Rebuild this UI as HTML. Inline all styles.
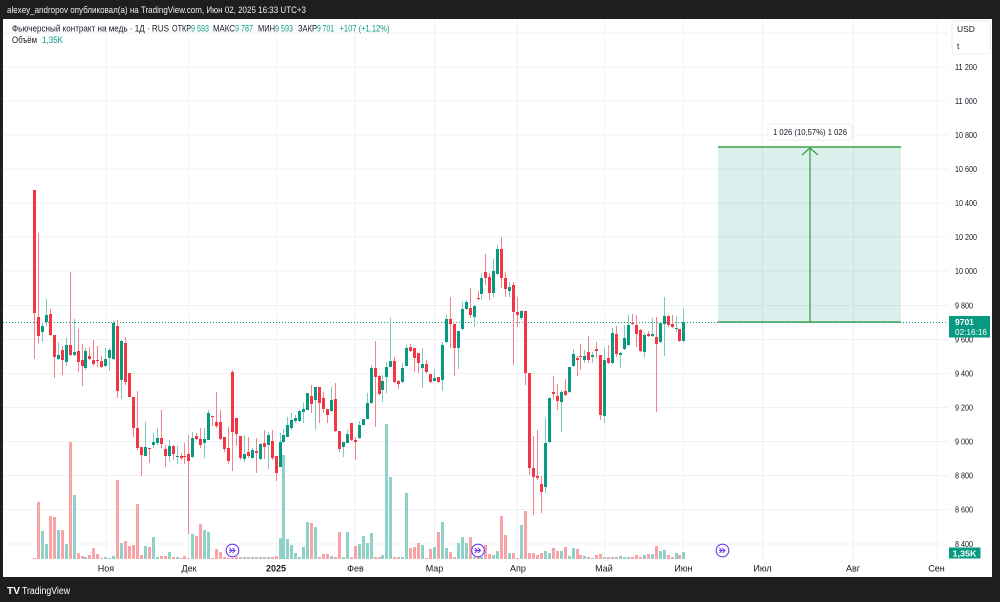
<!DOCTYPE html>
<html><head><meta charset="utf-8">
<style>
html,body{margin:0;padding:0;background:#1e1e1e;width:1000px;height:602px;overflow:hidden}
svg{display:block;font-family:"Liberation Sans","Noto Sans CJK SC",sans-serif}
</style></head>
<body>
<svg id="s" width="1000" height="602" viewBox="0 0 1000 602" xmlns="http://www.w3.org/2000/svg">
<rect width="1000" height="602" fill="#1e1e1e"/>
<text x="7" y="13" font-size="9.5" fill="#f0f0f0" textLength="299" lengthAdjust="spacingAndGlyphs">alexey_andropov опубликовал(а) на TradingView.com, Июн 02, 2025 16:33 UTC+3</text>
<rect x="3" y="19" width="989" height="558" fill="#ffffff"/>

<g stroke="#eff1f4" stroke-width="1" shape-rendering="crispEdges">
<line x1="3" x2="948" y1="33" y2="33"/>
<line x1="3" x2="948" y1="67" y2="67"/>
<line x1="3" x2="948" y1="101" y2="101"/>
<line x1="3" x2="948" y1="135" y2="135"/>
<line x1="3" x2="948" y1="169" y2="169"/>
<line x1="3" x2="948" y1="203" y2="203"/>
<line x1="3" x2="948" y1="237" y2="237"/>
<line x1="3" x2="948" y1="271" y2="271"/>
<line x1="3" x2="948" y1="305.5" y2="305.5"/>
<line x1="3" x2="948" y1="339.5" y2="339.5"/>
<line x1="3" x2="948" y1="373.5" y2="373.5"/>
<line x1="3" x2="948" y1="407.5" y2="407.5"/>
<line x1="3" x2="948" y1="441.5" y2="441.5"/>
<line x1="3" x2="948" y1="475.5" y2="475.5"/>
<line x1="3" x2="948" y1="509.5" y2="509.5"/>
<line x1="3" x2="948" y1="544" y2="544"/>
<line x1="106" x2="106" y1="19" y2="559"/>
<line x1="188.5" x2="188.5" y1="19" y2="559"/>
<line x1="276.5" x2="276.5" y1="19" y2="559"/>
<line x1="355" x2="355" y1="19" y2="559"/>
<line x1="434.5" x2="434.5" y1="19" y2="559"/>
<line x1="517.5" x2="517.5" y1="19" y2="559"/>
<line x1="604.5" x2="604.5" y1="19" y2="559"/>
<line x1="683.5" x2="683.5" y1="19" y2="559"/>
<line x1="762.5" x2="762.5" y1="19" y2="559"/>
<line x1="853.5" x2="853.5" y1="19" y2="559"/>
<line x1="937.5" x2="937.5" y1="19" y2="559"/>
</g>

<!-- measurement box -->
<rect x="718" y="147" width="183" height="175" fill="#089981" fill-opacity="0.15"/>
<line x1="718" x2="901" y1="147" y2="147" stroke="#43a047" stroke-width="1.5"/>
<line x1="718" x2="901" y1="322" y2="322" stroke="#43a047" stroke-width="1.5"/>
<line x1="810" x2="810" y1="148" y2="322" stroke="#43a047" stroke-width="1.3"/>
<polyline points="802,155 810,148 818,155" fill="none" stroke="#43a047" stroke-width="1.3"/>
<rect x="768" y="124" width="84" height="16" rx="3" fill="#ffffff" stroke="#e3e5ea" stroke-width="0.8"/>
<text x="810" y="135" font-size="8.5" fill="#131722" text-anchor="middle" textLength="74" lengthAdjust="spacingAndGlyphs">1 026 (10,57%) 1 026</text>

<g id="vol"></g>
<line x1="3" x2="948" y1="322.5" y2="322.5" stroke="#089981" stroke-width="1" stroke-dasharray="1,2"/>
<g id="wick"></g>
<g id="body"></g>

<!-- event icons -->
<g fill="#ffffff" stroke="#6a3cf0" stroke-width="1.1">
<circle cx="232.5" cy="550.5" r="6.3"/>
<circle cx="478" cy="550.5" r="6.3"/>
<circle cx="722.5" cy="550.5" r="6.3"/>
</g>
<g fill="none" stroke="#6a3cf0" stroke-width="1">
<path d="M229.5,548 l2.5,2.5 -2.5,2.5 M232.5,548 l2.5,2.5 -2.5,2.5 M229,550.5 h6"/>
<path d="M475,548 l2.5,2.5 -2.5,2.5 M478,548 l2.5,2.5 -2.5,2.5 M474.5,550.5 h6"/>
<path d="M719.5,548 l2.5,2.5 -2.5,2.5 M722.5,548 l2.5,2.5 -2.5,2.5 M719,550.5 h6"/>
</g>

<!-- legend -->
<g font-size="9" fill="#131722">
<text x="12" y="31.5" textLength="157" lengthAdjust="spacingAndGlyphs">Фьючерсный контракт на медь · 1Д · RUS</text>
<text x="172" y="31.5" textLength="19" lengthAdjust="spacingAndGlyphs">ОТКР</text>
<text x="191" y="31.5" fill="#089981" textLength="18" lengthAdjust="spacingAndGlyphs">9 593</text>
<text x="213" y="31.5" textLength="22" lengthAdjust="spacingAndGlyphs">МАКС</text>
<text x="235" y="31.5" fill="#089981" textLength="18" lengthAdjust="spacingAndGlyphs">9 787</text>
<text x="258" y="31.5" textLength="17" lengthAdjust="spacingAndGlyphs">МИН</text>
<text x="275" y="31.5" fill="#089981" textLength="18" lengthAdjust="spacingAndGlyphs">9 593</text>
<text x="298" y="31.5" textLength="19" lengthAdjust="spacingAndGlyphs">ЗАКР</text>
<text x="317" y="31.5" fill="#089981" textLength="17" lengthAdjust="spacingAndGlyphs">9 701</text>
<text x="339.5" y="31.5" fill="#089981" textLength="50" lengthAdjust="spacingAndGlyphs">+107 (+1,12%)</text>
<text x="12" y="43" textLength="25" lengthAdjust="spacingAndGlyphs">Объём</text>
<text x="42" y="43" fill="#089981" textLength="21" lengthAdjust="spacingAndGlyphs">1,35K</text>
</g>

<!-- price scale -->
<rect x="952" y="21" width="38.5" height="33" rx="3" fill="#ffffff" stroke="#e6e8ec" stroke-width="0.8"/>
<text x="957" y="32" font-size="8.5" fill="#131722">USD</text>
<text x="957" y="49" font-size="8.5" fill="#131722">t</text>
<g font-size="8.5" fill="#131722">
<text x="955" y="70" textLength="22" lengthAdjust="spacingAndGlyphs">11 200</text>
<text x="955" y="104" textLength="22" lengthAdjust="spacingAndGlyphs">11 000</text>
<text x="955" y="138" textLength="22" lengthAdjust="spacingAndGlyphs">10 800</text>
<text x="955" y="172" textLength="22" lengthAdjust="spacingAndGlyphs">10 600</text>
<text x="955" y="206" textLength="22" lengthAdjust="spacingAndGlyphs">10 400</text>
<text x="955" y="240" textLength="22" lengthAdjust="spacingAndGlyphs">10 200</text>
<text x="955" y="274" textLength="22" lengthAdjust="spacingAndGlyphs">10 000</text>
<text x="955" y="308.5" textLength="18" lengthAdjust="spacingAndGlyphs">9 800</text>
<text x="955" y="342.5" textLength="18" lengthAdjust="spacingAndGlyphs">9 600</text>
<text x="955" y="376.5" textLength="18" lengthAdjust="spacingAndGlyphs">9 400</text>
<text x="955" y="410.5" textLength="18" lengthAdjust="spacingAndGlyphs">9 200</text>
<text x="955" y="444.5" textLength="18" lengthAdjust="spacingAndGlyphs">9 000</text>
<text x="955" y="478.5" textLength="18" lengthAdjust="spacingAndGlyphs">8 800</text>
<text x="955" y="512.5" textLength="18" lengthAdjust="spacingAndGlyphs">8 600</text>
<text x="955" y="547" textLength="18" lengthAdjust="spacingAndGlyphs">8 400</text>
</g>
<rect x="949" y="316" width="41" height="21.5" fill="#089981"/>
<text x="955" y="325" font-size="8.5" font-weight="bold" fill="#ffffff">9701</text>
<text x="955" y="335" font-size="8.5" fill="#ffffff" textLength="32" lengthAdjust="spacingAndGlyphs">02:16:16</text>
<rect x="949" y="547.5" width="31.5" height="11" fill="#089981"/>
<text x="952.5" y="556.5" font-size="8.5" font-weight="bold" fill="#ffffff" textLength="24" lengthAdjust="spacingAndGlyphs">1,35K</text>

<!-- time axis -->
<g font-size="9" fill="#131722" text-anchor="middle">
<text x="106" y="571.5">Ноя</text>
<text x="189" y="571.5">Дек</text>
<text x="276" y="571.5" font-weight="bold">2025</text>
<text x="355.5" y="571.5">Фев</text>
<text x="434.5" y="571.5">Мар</text>
<text x="518" y="571.5">Апр</text>
<text x="604" y="571.5">Май</text>
<text x="683.5" y="571.5">Июн</text>
<text x="762.5" y="571.5">Июл</text>
<text x="853" y="571.5">Авг</text>
<text x="936.5" y="571.5">Сен</text>
</g>

<!-- footer logo -->
<text x="7" y="594" font-size="10.5" font-weight="bold" fill="#ffffff" textLength="13" lengthAdjust="spacingAndGlyphs">TV</text>
<text x="22" y="594" font-size="10" fill="#ffffff" textLength="48" lengthAdjust="spacingAndGlyphs">TradingView</text>
</svg>
<script>
(function(){
var D=[[190,313,190,359],[317,336,233,343],[332,326,322,342],[322,315,299,326],[314,335,309,336],[335,357,335,378],[359,355,342,360],[350,360,346,375],[362,345,338,366],[345,355,272,356],
[355,352,319,356],[351,362,329,372],[360,366,344,386],[368,351,348,370],[356,359,347,360],[360,364,340,366],[360,361,346,367],[361,367,356,368],[366,359,348,367],[358,350,348,371],
[359,323,321,360],[326,391,320,398],[380,341,340,399],[343,382,337,385],[373,397,373,397],[397,428,397,437],[428,448,391,450],[447,455,447,476],[456,447,422,456],[448,449,448,463],
[445,442,433,448],[443,438,428,445],[438,444,410,448],[449,456,445,467],[456,446,440,462],[446,454,445,460],[457,456,446,464],[456,458,453,460],[456,457,443,464],[454,461,435,534],
[457,438,432,458],[436,439,433,440],[439,445,428,448],[443,439,428,458],[440,413,410,440],[416,417,416,426],[422,426,392,428],[422,439,410,440],[437,449,437,452],[448,461,427,464],
[372,432,370,471],[418,434,418,446],[436,458,436,460],[459,454,435,462],[452,456,437,458],[458,450,448,459],[451,453,438,473],[459,444,443,460],[443,447,430,459],[445,435,432,469],
[441,458,430,460],[456,473,456,481],[467,442,433,467],[442,435,429,443],[437,425,417,437],[428,420,413,430],[421,418,415,423],[421,411,410,422],[412,409,403,423],[410,393,393,410],
[396,404,385,413],[400,387,387,430],[387,403,387,423],[398,409,392,413],[409,415,409,423],[411,400,387,412],[399,431,383,432],[431,449,431,452],[447,442,442,457],[443,434,430,443],
[423,440,423,441],[440,442,437,460],[438,425,421,439],[425,419,419,426],[419,403,393,419],[403,368,365,404],[368,377,341,427],[376,394,375,395],[390,381,375,402],[377,367,362,393],
[367,361,318,367],[361,382,357,383],[381,384,380,389],[382,368,363,383],[366,348,345,366],[347,351,344,352],[348,358,348,372],[353,363,353,373],[368,364,348,388],[364,372,360,373],
[374,382,374,383],[381,378,369,382],[377,382,377,383],[380,345,342,391],[342,319,315,343],[319,324,297,348],[324,348,324,376],[348,331,331,369],[329,309,302,330],[309,302,300,310],
[308,315,288,318],[317,306,305,327],[298,299,291,300],[294,278,273,300],[272,278,254,285],[277,293,273,300],[293,271,259,297],[274,249,245,275],[249,278,237,288],[278,289,272,297],
[291,287,282,297],[285,312,282,365],[312,315,297,327],[318,311,310,320],[311,373,311,385],[373,468,373,475],[468,477,436,515],[476,478,430,480],[484,492,476,513],[487,443,418,493],
[442,398,397,443],[392,394,376,400],[396,401,384,410],[402,392,390,432],[391,395,379,396],[392,367,367,393],[366,354,349,367],[358,360,356,376],[356,357,344,370],[360,356,350,363],
[352,360,336,363],[357,355,352,363],[349,351,342,358],[355,415,355,420],[416,360,348,423],[358,363,345,364],[363,333,328,364],[334,354,326,357],[355,353,352,368],[349,338,325,350],
[345,325,315,346],[323,324,314,325],[325,334,315,347],[330,351,329,352],[352,335,333,358],[334,336,331,337],[336,334,318,337],[337,344,317,412],[342,323,322,343],[324,316,297,356],
[316,325,315,327],[324,327,315,328],[329,328,316,332],[329,341,329,342],[341,322,308,342]];
var V=[1,57,28,15,43,42,29,29,15,117,64,6,3,2,4,11,5,1,2,1,3,79,16,18,13,14,55,4,13,12,22,2,3,3,7,2,2,1,3,1,25,23,35,29,27,1,10,7,2,1,1,2,2,2,2,2,2,2,2,2,2,3,21,104,20,14,6,2,12,37,36,32,2,5,5,3,2,27,2,27,2,
13,15,23,16,26,2,2,4,135,82,2,2,2,66,11,12,16,14,1,10,12,27,37,11,7,2,16,22,16,22,2,2,2,14,5,4,8,43,24,6,6,1,34,48,6,6,4,6,8,6,11,8,8,12,3,11,10,4,3,2,1,4,5,2,2,2,2,3,2,2,2,4,2,4,5,5,13,8,9,4,2,6,4,7];
var NS="http://www.w3.org/2000/svg";
var gv=document.getElementById("vol"),gw=document.getElementById("wick"),gb=document.getElementById("body");
function R(g,x,y,w,h,f){var r=document.createElementNS(NS,"rect");r.setAttribute("x",x);r.setAttribute("y",y);r.setAttribute("width",w);r.setAttribute("height",h);r.setAttribute("fill",f);g.appendChild(r);}
for(var i=0;i<D.length;i++){
 var d=D[i],o=d[0],c=d[1],h=d[2],l=d[3];
 var cx=Math.round(34+3.96*i);
 var up=c<o || (c==o);
 var top=Math.min(o,c),bh=Math.max(1,Math.abs(o-c));
 var hi=Math.min(h,top),lo=Math.max(l,top+bh);
 var v=V[i]||2;
 R(gv,cx-1,559-v,3,v,up?"#8fd1c7":"#f8a3a6");
 R(gw,cx,hi,1,lo-hi,up?"#7ccbbd":"#f5828b");
 R(gb,cx-1,top,3,bh,up?"#089981":"#f23645");
}
})();
</script>
</body></html>
